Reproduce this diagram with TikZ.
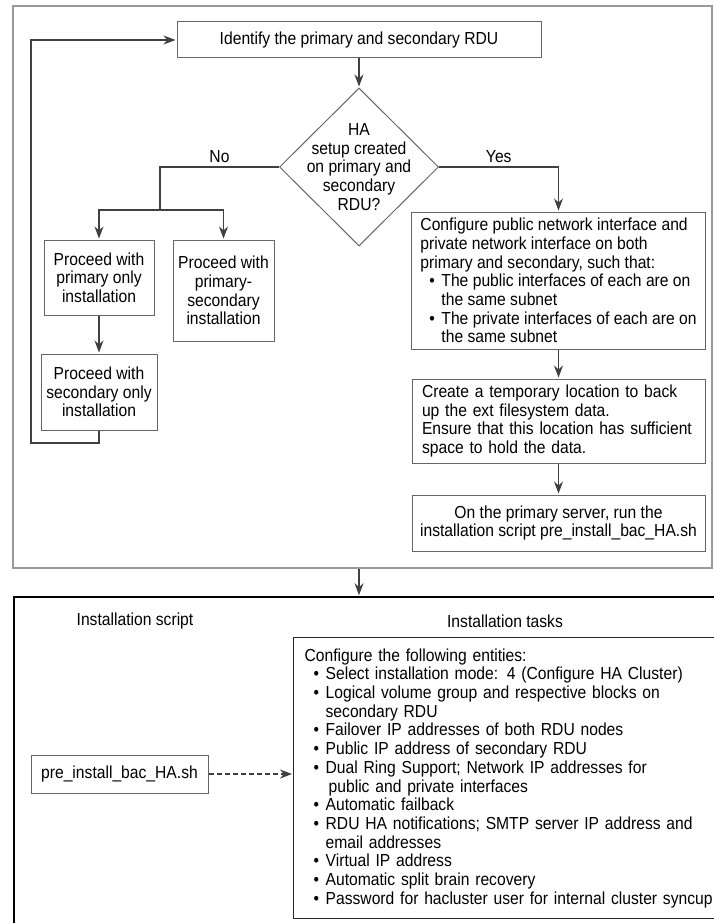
\documentclass[tikz,border=0pt]{standalone}
\usepackage{fontspec}
\setmainfont[FakeStretch=0.9]{Liberation Sans}
\usepackage{tikz}
\usepackage{xcolor}
\usetikzlibrary{positioning,shapes.geometric,arrows.meta}
\tikzstyle{kasten} = [rectangle, draw=black!60, line width=1pt, align=center, inner sep=0pt]
\tikzstyle{raute} = [diamond, draw=black!60, line width=1pt, aspect=1, inner sep=0pt, minimum width=159pt, minimum height=158pt]
\tikzstyle{rahmen} = [rectangle, draw=black!40, line width=1.2pt, inner sep=0pt]
\newcommand{\pkt}{\hspace*{9pt}\makebox[12pt][l]{\textbullet}}
\newcommand{\weiter}{\hspace*{21pt}}

\begin{document}
\begin{tikzpicture}[->,>={Stealth[length=12pt,width=9pt]},shorten >=1pt,auto,x=1pt,y=-1pt,
  line width=1.1pt,draw=black!75,every node/.style={font=\fontsize{17.4}{18.7}\selectfont}]
  \useasboundingbox (0,0) rectangle (713,923);
  \node[rahmen, minimum width=699pt, minimum height=562pt] (Rahmen_O) at (362.5,287) {};
  \node[rahmen, draw=black, line width=1.6pt, minimum width=760pt, minimum height=360pt] (Rahmen_U) at (394,777) {};

  \node[kasten, minimum width=364pt, minimum height=36pt] (Ident) at (359,40) {Identify the primary and secondary RDU};
  \node[raute] (HA_Q) at (359,167) {};
  \node[align=center] (HA_Text) at (HA_Q) {HA\\setup created\\on primary and\\secondary\\RDU?};
  \node[kasten, minimum width=110pt, minimum height=75pt] (P_nur) at (99,277.5) {Proceed with\\primary only\\installation};
  \node[kasten, minimum width=101pt, minimum height=101pt] (PS_inst) at (223.5,290.5) {Proceed with\\primary-\\secondary\\installation};
  \node[kasten, minimum width=116pt, minimum height=76pt] (S_nur) at (99,392) {Proceed with\\secondary only\\installation};
  \node[kasten, align=left, minimum width=294pt, minimum height=137pt] (Konf_Netz) at (558.5,280.5)
    {Configure public network interface and\\private network interface on both\\primary and secondary, such that:\\
     \pkt The public interfaces of each are on\\\weiter the same subnet\\
     \pkt The private interfaces of each are on\\\weiter the same subnet};
  \node[kasten, align=left, text width=273pt, minimum width=293pt, minimum height=84pt] (Temp_Ort) [below=29pt of Konf_Netz]
    {Create a temporary location to back\\up the ext filesystem data.\\Ensure that this location has sufficient\\space to hold the data.};
  \node[kasten, minimum width=293pt, minimum height=56pt] (Skript_Lauf) [below=31pt of Temp_Ort]
    {On the primary server, run the\\installation script pre\_install\_bac\_HA.sh};

  \node (Titel_S) at (135,621) {Installation script};
  \node (Titel_A) at (505,621) {Installation tasks};
  \node[kasten, minimum width=177pt, minimum height=38pt] (Skript) at (119.5,774) {pre\_install\_bac\_HA.sh};
  \node[kasten, draw=black!85, line width=1.3pt, anchor=north west, align=left, text width=480pt, minimum width=502pt, minimum height=281pt] (Liste) at (293,637)
    {Configure the following entities:\\
     \pkt Select installation mode: 4 (Configure HA Cluster)\\
     \pkt Logical volume group and respective blocks on\\\weiter secondary RDU\\
     \pkt Failover IP addresses of both RDU nodes\\
     \pkt Public IP address of secondary RDU\\
     \pkt Dual Ring Support; Network IP addresses for\\\hspace*{24pt}public and private interfaces\\
     \pkt Automatic failback\\
     \pkt RDU HA notifications; SMTP server IP address and\\\weiter email addresses\\
     \pkt Virtual IP address\\
     \pkt Automatic split brain recovery\\
     \pkt Password for hacluster user for internal cluster syncup};

  \coordinate (Teil_L) at (160,210);
  \coordinate (Schleife_U) at (31,443);
  \coordinate (Schleife_O) at (31,40);

  \path (Ident) edge node {} (HA_Q);
  \draw[-] (HA_Q.west) -| node[above,pos=0.25] {No} (Teil_L);
  \draw (Teil_L) -| (P_nur.north);
  \draw (Teil_L) -| (PS_inst.north);
  \draw (HA_Q.east) -| node[above,pos=0.25] {Yes} (Konf_Netz.north);
  \path (P_nur) edge node {} (S_nur);
  \draw (S_nur.south) |- (Schleife_U) -- (Schleife_O) -- (Ident.west);
  \path (Konf_Netz) edge node {} (Temp_Ort);
  \path (Temp_Ort) edge node {} (Skript_Lauf);
  \path (Rahmen_O.south -| Ident) edge node {} (Rahmen_U.north -| Ident);
  \path (Skript) edge[dash pattern=on 5pt off 3pt] node {} (Skript -| Liste.west);
\end{tikzpicture}
\end{document}
